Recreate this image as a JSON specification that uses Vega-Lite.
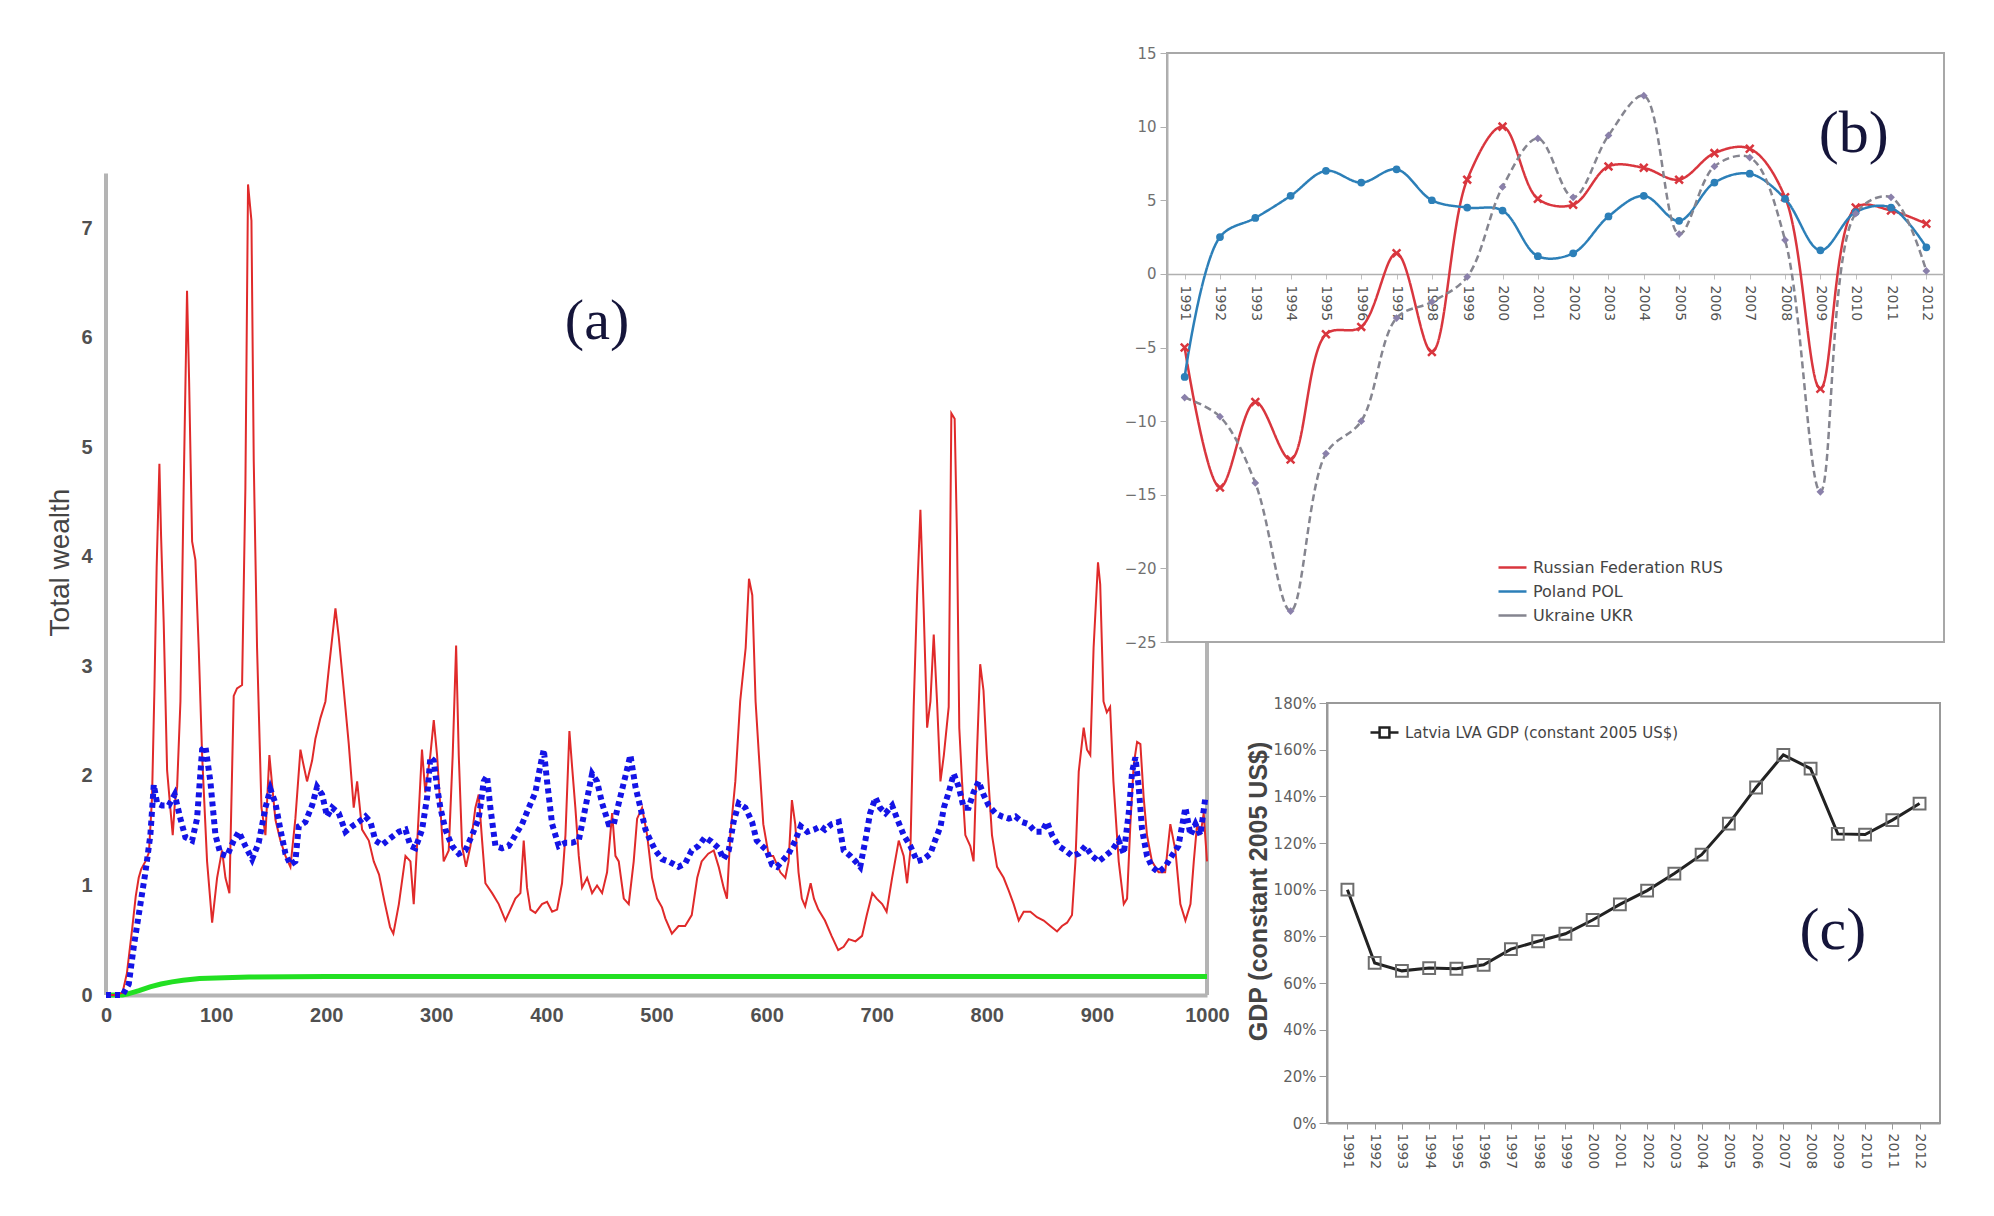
{
  "$schema": "https://vega.github.io/schema/vega-lite/v6.json",
  "background": "white",
  "padding": {"left": 46, "top": 45, "right": 5, "bottom": 5},
  "autosize": {"type": "pad"},
  "config": {
    "view": {"stroke": null},
    "axis": {"grid": false, "labelOverlap": false, "labelFlush": false},
    "font": "Liberation Sans"
  },
  "datasets": {
    "frameA": [
      {"x": 0, "x2": 0, "y": 0, "y2": 7.5},
      {"x": 1000, "x2": 1000, "y": 0, "y2": 7.5}
    ],
    "green": [
      {"t": 0, "w": 0}, {"t": 15, "w": 0}, {"t": 20, "w": 0.01}, {"t": 30, "w": 0.04},
      {"t": 40, "w": 0.075}, {"t": 50, "w": 0.1}, {"t": 60, "w": 0.12}, {"t": 70, "w": 0.135},
      {"t": 85, "w": 0.15}, {"t": 100, "w": 0.155}, {"t": 130, "w": 0.165}, {"t": 200, "w": 0.17},
      {"t": 1000, "w": 0.17}
    ],
    "red": [
      {"t": 0, "w": 0}, {"t": 8, "w": 0}, {"t": 15, "w": 0.02}, {"t": 19, "w": 0.2}, {"t": 23.7, "w": 0.6},
      {"t": 27, "w": 0.9}, {"t": 29.7, "w": 1.07}, {"t": 32, "w": 1.15}, {"t": 35.8, "w": 1.22}, {"t": 39, "w": 1.3},
      {"t": 41.8, "w": 1.8}, {"t": 44, "w": 2.8}, {"t": 46, "w": 3.9}, {"t": 48.5, "w": 4.85}, {"t": 50, "w": 4.2},
      {"t": 52.4, "w": 3.4}, {"t": 55.5, "w": 2.05}, {"t": 58.5, "w": 1.7}, {"t": 60.6, "w": 1.46}, {"t": 62.5, "w": 1.75},
      {"t": 64.6, "w": 1.9}, {"t": 67.6, "w": 2.68}, {"t": 70.5, "w": 4.6}, {"t": 73.6, "w": 6.43}, {"t": 75.5, "w": 5.6},
      {"t": 78.2, "w": 4.14}, {"t": 81.2, "w": 3.97}, {"t": 84.2, "w": 3.17}, {"t": 87.3, "w": 2.19}, {"t": 91.8, "w": 1.22},
      {"t": 96.4, "w": 0.66}, {"t": 100.9, "w": 1.07}, {"t": 105.4, "w": 1.32}, {"t": 108.5, "w": 1.07}, {"t": 112.1, "w": 0.93},
      {"t": 116, "w": 2.73}, {"t": 119, "w": 2.8}, {"t": 123.6, "w": 2.83}, {"t": 126.6, "w": 4.63}, {"t": 129, "w": 7.4},
      {"t": 132.1, "w": 7.07}, {"t": 134.2, "w": 4.87}, {"t": 137.2, "w": 3.17}, {"t": 141.2, "w": 1.71}, {"t": 144.8, "w": 1.46},
      {"t": 148.4, "w": 2.19}, {"t": 151.5, "w": 1.85}, {"t": 153.9, "w": 1.6}, {"t": 158.4, "w": 1.41}, {"t": 163, "w": 1.27},
      {"t": 167.5, "w": 1.17}, {"t": 172, "w": 1.61}, {"t": 176.6, "w": 2.24}, {"t": 179.6, "w": 2.09}, {"t": 182.6, "w": 1.95},
      {"t": 187.2, "w": 2.14}, {"t": 190.2, "w": 2.34}, {"t": 194.8, "w": 2.53}, {"t": 199.3, "w": 2.68}, {"t": 202.3, "w": 2.97},
      {"t": 208.4, "w": 3.53}, {"t": 211.4, "w": 3.27}, {"t": 216, "w": 2.78}, {"t": 220.5, "w": 2.29}, {"t": 225, "w": 1.71},
      {"t": 228.1, "w": 1.95}, {"t": 232.6, "w": 1.51}, {"t": 238.7, "w": 1.41}, {"t": 243.2, "w": 1.22}, {"t": 248, "w": 1.1},
      {"t": 253, "w": 0.85}, {"t": 258, "w": 0.62}, {"t": 261, "w": 0.56}, {"t": 266, "w": 0.83}, {"t": 272, "w": 1.27},
      {"t": 276.5, "w": 1.22}, {"t": 279.5, "w": 0.83}, {"t": 282.5, "w": 1.36}, {"t": 287, "w": 2.24}, {"t": 290, "w": 1.85},
      {"t": 294.6, "w": 2.19}, {"t": 297.7, "w": 2.51}, {"t": 300.7, "w": 2.19}, {"t": 303.7, "w": 1.71}, {"t": 306.7, "w": 1.22},
      {"t": 311.3, "w": 1.32}, {"t": 314.9, "w": 2.19}, {"t": 318, "w": 3.19}, {"t": 320.4, "w": 2.19}, {"t": 323.4, "w": 1.36},
      {"t": 327, "w": 1.17}, {"t": 331, "w": 1.36}, {"t": 335.5, "w": 1.71}, {"t": 338.5, "w": 1.83}, {"t": 341.6, "w": 1.41},
      {"t": 344.6, "w": 1.02}, {"t": 350.7, "w": 0.93}, {"t": 356.7, "w": 0.83}, {"t": 362.8, "w": 0.68}, {"t": 367.3, "w": 0.78},
      {"t": 371.8, "w": 0.88}, {"t": 376.4, "w": 0.93}, {"t": 379.4, "w": 1.41}, {"t": 382.4, "w": 0.98}, {"t": 385.5, "w": 0.78},
      {"t": 390, "w": 0.75}, {"t": 396, "w": 0.83}, {"t": 400.6, "w": 0.85}, {"t": 405.2, "w": 0.76}, {"t": 409.7, "w": 0.78},
      {"t": 414.2, "w": 1.02}, {"t": 417.3, "w": 1.46}, {"t": 420.9, "w": 2.41}, {"t": 423.3, "w": 2.09}, {"t": 426.3, "w": 1.71},
      {"t": 429.4, "w": 1.27}, {"t": 432.4, "w": 0.98}, {"t": 437, "w": 1.07}, {"t": 441.5, "w": 0.93}, {"t": 446, "w": 1.0},
      {"t": 450.6, "w": 0.93}, {"t": 455.1, "w": 1.12}, {"t": 459.7, "w": 1.66}, {"t": 462.7, "w": 1.27}, {"t": 465.7, "w": 1.22},
      {"t": 470.3, "w": 0.88}, {"t": 474.8, "w": 0.83}, {"t": 479.3, "w": 1.22}, {"t": 482.4, "w": 1.61}, {"t": 486.9, "w": 1.71},
      {"t": 491.5, "w": 1.46}, {"t": 496, "w": 1.07}, {"t": 500.5, "w": 0.88}, {"t": 505, "w": 0.8}, {"t": 508, "w": 0.7},
      {"t": 514, "w": 0.56}, {"t": 520, "w": 0.63}, {"t": 526, "w": 0.63}, {"t": 532, "w": 0.73}, {"t": 537, "w": 1.07},
      {"t": 541, "w": 1.22}, {"t": 547, "w": 1.29}, {"t": 552, "w": 1.32}, {"t": 556.5, "w": 1.17}, {"t": 561, "w": 0.98},
      {"t": 564, "w": 0.88}, {"t": 567, "w": 1.46}, {"t": 571.6, "w": 1.95}, {"t": 576, "w": 2.68}, {"t": 581, "w": 3.17},
      {"t": 584, "w": 3.8}, {"t": 587, "w": 3.65}, {"t": 590, "w": 2.68}, {"t": 593, "w": 2.19}, {"t": 597, "w": 1.56},
      {"t": 602, "w": 1.27}, {"t": 606, "w": 1.27}, {"t": 612.5, "w": 1.12}, {"t": 617, "w": 1.07}, {"t": 620, "w": 1.22},
      {"t": 623, "w": 1.78}, {"t": 626, "w": 1.56}, {"t": 629, "w": 1.12}, {"t": 632, "w": 0.88}, {"t": 635, "w": 0.81},
      {"t": 640, "w": 1.02}, {"t": 643, "w": 0.88}, {"t": 647, "w": 0.78}, {"t": 653, "w": 0.68}, {"t": 659, "w": 0.54},
      {"t": 665, "w": 0.41}, {"t": 670, "w": 0.44}, {"t": 674.6, "w": 0.51}, {"t": 680.7, "w": 0.49}, {"t": 686.7, "w": 0.54},
      {"t": 691, "w": 0.73}, {"t": 696, "w": 0.93}, {"t": 700, "w": 0.88}, {"t": 705, "w": 0.83}, {"t": 709, "w": 0.76},
      {"t": 714, "w": 1.07}, {"t": 720, "w": 1.41}, {"t": 724.5, "w": 1.27}, {"t": 727.6, "w": 1.02}, {"t": 730.6, "w": 1.32},
      {"t": 733.6, "w": 2.63}, {"t": 736.7, "w": 3.65}, {"t": 739.7, "w": 4.43}, {"t": 742.7, "w": 3.51}, {"t": 745.8, "w": 2.44},
      {"t": 748.8, "w": 2.68}, {"t": 751.8, "w": 3.29}, {"t": 754.8, "w": 2.68}, {"t": 757.9, "w": 1.95}, {"t": 761, "w": 2.19},
      {"t": 765.4, "w": 2.63}, {"t": 767.8, "w": 5.31}, {"t": 770.8, "w": 5.26}, {"t": 773, "w": 4.14}, {"t": 775, "w": 2.44},
      {"t": 777.5, "w": 1.95}, {"t": 780.5, "w": 1.46}, {"t": 785, "w": 1.36}, {"t": 788, "w": 1.22}, {"t": 791, "w": 2.19},
      {"t": 794, "w": 3.02}, {"t": 797, "w": 2.78}, {"t": 800, "w": 2.19}, {"t": 804.7, "w": 1.46}, {"t": 809.3, "w": 1.17},
      {"t": 815.3, "w": 1.07}, {"t": 820, "w": 0.95}, {"t": 824.4, "w": 0.83}, {"t": 829, "w": 0.68}, {"t": 833.5, "w": 0.76},
      {"t": 839.6, "w": 0.76}, {"t": 845.6, "w": 0.71}, {"t": 851.7, "w": 0.68}, {"t": 857.7, "w": 0.63}, {"t": 863.8, "w": 0.58},
      {"t": 868.3, "w": 0.63}, {"t": 872.9, "w": 0.66}, {"t": 877.4, "w": 0.73}, {"t": 880.5, "w": 1.22}, {"t": 883.5, "w": 2.04},
      {"t": 888, "w": 2.44}, {"t": 891, "w": 2.24}, {"t": 894, "w": 2.19}, {"t": 897, "w": 3.17}, {"t": 901, "w": 3.95},
      {"t": 903, "w": 3.75}, {"t": 906, "w": 2.68}, {"t": 909, "w": 2.58}, {"t": 912, "w": 2.63}, {"t": 915, "w": 1.95},
      {"t": 919.8, "w": 1.22}, {"t": 924.4, "w": 0.83}, {"t": 927.4, "w": 0.88}, {"t": 930.4, "w": 1.56}, {"t": 933.4, "w": 2.1},
      {"t": 936.5, "w": 2.31}, {"t": 939.5, "w": 2.29}, {"t": 942.5, "w": 1.8}, {"t": 945.5, "w": 1.46}, {"t": 950, "w": 1.22},
      {"t": 956, "w": 1.12}, {"t": 962, "w": 1.12}, {"t": 966.7, "w": 1.56}, {"t": 971.3, "w": 1.32}, {"t": 975.8, "w": 0.83},
      {"t": 980.4, "w": 0.68}, {"t": 985, "w": 0.83}, {"t": 988, "w": 1.22}, {"t": 991, "w": 1.56}, {"t": 994, "w": 1.46},
      {"t": 997, "w": 1.66}, {"t": 1000, "w": 1.22}
    ],
    "blue": [
      {"t": 0, "w": 0}, {"t": 15, "w": 0}, {"t": 20.7, "w": 0.1}, {"t": 25.2, "w": 0.44}, {"t": 29.7, "w": 0.73},
      {"t": 35.8, "w": 1.12}, {"t": 40.3, "w": 1.46}, {"t": 43.4, "w": 1.92}, {"t": 46.4, "w": 1.75}, {"t": 50.9, "w": 1.73},
      {"t": 57, "w": 1.73}, {"t": 62.4, "w": 1.83}, {"t": 67.6, "w": 1.61}, {"t": 72.1, "w": 1.44}, {"t": 78.2, "w": 1.41},
      {"t": 82.7, "w": 1.61}, {"t": 87.3, "w": 2.24}, {"t": 90.3, "w": 2.27}, {"t": 94.8, "w": 1.95}, {"t": 99.4, "w": 1.46},
      {"t": 103.9, "w": 1.29}, {"t": 110, "w": 1.27}, {"t": 116, "w": 1.41}, {"t": 120.6, "w": 1.49}, {"t": 126.6, "w": 1.36},
      {"t": 132.7, "w": 1.24}, {"t": 138.7, "w": 1.39}, {"t": 144.8, "w": 1.71}, {"t": 149.3, "w": 1.88}, {"t": 153.9, "w": 1.75},
      {"t": 158.4, "w": 1.51}, {"t": 163, "w": 1.29}, {"t": 167.5, "w": 1.19}, {"t": 172, "w": 1.22}, {"t": 175.1, "w": 1.54},
      {"t": 181.1, "w": 1.58}, {"t": 187.2, "w": 1.73}, {"t": 191.7, "w": 1.9}, {"t": 196.3, "w": 1.83}, {"t": 200.8, "w": 1.63},
      {"t": 205.4, "w": 1.71}, {"t": 211.4, "w": 1.66}, {"t": 217.5, "w": 1.49}, {"t": 223.5, "w": 1.54}, {"t": 229.6, "w": 1.58},
      {"t": 235.6, "w": 1.63}, {"t": 240.2, "w": 1.58}, {"t": 244.7, "w": 1.41}, {"t": 250.8, "w": 1.37}, {"t": 256.8, "w": 1.42},
      {"t": 262, "w": 1.46}, {"t": 266, "w": 1.49}, {"t": 272, "w": 1.51}, {"t": 276.5, "w": 1.36}, {"t": 281, "w": 1.34},
      {"t": 287.1, "w": 1.51}, {"t": 291.6, "w": 1.8}, {"t": 294.6, "w": 2.17}, {"t": 297.7, "w": 2.14}, {"t": 300.7, "w": 1.9},
      {"t": 303.7, "w": 1.71}, {"t": 308.3, "w": 1.51}, {"t": 314.3, "w": 1.36}, {"t": 320.4, "w": 1.29}, {"t": 326.4, "w": 1.32},
      {"t": 332.5, "w": 1.46}, {"t": 338.5, "w": 1.61}, {"t": 343.1, "w": 1.95}, {"t": 346.1, "w": 2.0}, {"t": 349.1, "w": 1.71},
      {"t": 353.7, "w": 1.36}, {"t": 359.7, "w": 1.34}, {"t": 365.8, "w": 1.36}, {"t": 371.8, "w": 1.46}, {"t": 377.9, "w": 1.56},
      {"t": 384, "w": 1.71}, {"t": 390, "w": 1.85}, {"t": 394.6, "w": 2.1}, {"t": 397.6, "w": 2.24}, {"t": 400.6, "w": 1.95},
      {"t": 405.2, "w": 1.56}, {"t": 411.2, "w": 1.36}, {"t": 417.3, "w": 1.39}, {"t": 423.3, "w": 1.39}, {"t": 429.4, "w": 1.41},
      {"t": 435.4, "w": 1.71}, {"t": 441.5, "w": 2.02}, {"t": 446, "w": 1.95}, {"t": 450.6, "w": 1.75}, {"t": 456.6, "w": 1.56},
      {"t": 461.2, "w": 1.56}, {"t": 465.7, "w": 1.75}, {"t": 471.8, "w": 2.0}, {"t": 476.3, "w": 2.19}, {"t": 480.9, "w": 1.9},
      {"t": 485.4, "w": 1.71}, {"t": 490, "w": 1.51}, {"t": 494.5, "w": 1.41}, {"t": 499, "w": 1.32}, {"t": 505.1, "w": 1.24},
      {"t": 511, "w": 1.22}, {"t": 520, "w": 1.17}, {"t": 526, "w": 1.2}, {"t": 532, "w": 1.32}, {"t": 538, "w": 1.36},
      {"t": 544, "w": 1.44}, {"t": 550, "w": 1.4}, {"t": 556.5, "w": 1.34}, {"t": 561, "w": 1.24}, {"t": 565.6, "w": 1.32},
      {"t": 570, "w": 1.58}, {"t": 574.7, "w": 1.75}, {"t": 580.7, "w": 1.71}, {"t": 586.8, "w": 1.58}, {"t": 591, "w": 1.41},
      {"t": 596, "w": 1.36}, {"t": 600, "w": 1.32}, {"t": 605, "w": 1.19}, {"t": 609.5, "w": 1.17}, {"t": 614, "w": 1.22},
      {"t": 620, "w": 1.29}, {"t": 626, "w": 1.41}, {"t": 631, "w": 1.54}, {"t": 637, "w": 1.49}, {"t": 643, "w": 1.51},
      {"t": 649, "w": 1.54}, {"t": 653, "w": 1.51}, {"t": 659, "w": 1.56}, {"t": 665.5, "w": 1.58}, {"t": 670, "w": 1.32},
      {"t": 676, "w": 1.27}, {"t": 680.7, "w": 1.22}, {"t": 685, "w": 1.17}, {"t": 689.7, "w": 1.41}, {"t": 694, "w": 1.66},
      {"t": 699, "w": 1.8}, {"t": 703, "w": 1.71}, {"t": 708, "w": 1.66}, {"t": 714, "w": 1.73}, {"t": 718.5, "w": 1.61},
      {"t": 724.5, "w": 1.46}, {"t": 730.6, "w": 1.36}, {"t": 736.7, "w": 1.22}, {"t": 742.7, "w": 1.24}, {"t": 748.8, "w": 1.29},
      {"t": 753, "w": 1.41}, {"t": 758, "w": 1.54}, {"t": 761, "w": 1.71}, {"t": 765.4, "w": 1.85}, {"t": 770, "w": 2.02},
      {"t": 774.5, "w": 1.9}, {"t": 779, "w": 1.71}, {"t": 783.5, "w": 1.71}, {"t": 788, "w": 1.85}, {"t": 792.6, "w": 1.95},
      {"t": 797, "w": 1.83}, {"t": 801.7, "w": 1.73}, {"t": 807.8, "w": 1.66}, {"t": 813.8, "w": 1.63}, {"t": 820, "w": 1.61},
      {"t": 826, "w": 1.63}, {"t": 832, "w": 1.58}, {"t": 838, "w": 1.56}, {"t": 844, "w": 1.49}, {"t": 850, "w": 1.49},
      {"t": 854.7, "w": 1.58}, {"t": 859.3, "w": 1.46}, {"t": 865.3, "w": 1.36}, {"t": 871.4, "w": 1.32}, {"t": 877.4, "w": 1.27},
      {"t": 883.5, "w": 1.29}, {"t": 889.5, "w": 1.36}, {"t": 895.6, "w": 1.27}, {"t": 901.6, "w": 1.22}, {"t": 907.7, "w": 1.27},
      {"t": 913.7, "w": 1.32}, {"t": 919.8, "w": 1.41}, {"t": 924.4, "w": 1.29}, {"t": 928.9, "w": 1.66}, {"t": 932, "w": 2.04},
      {"t": 935, "w": 2.17}, {"t": 938, "w": 1.9}, {"t": 941, "w": 1.51}, {"t": 945.5, "w": 1.27}, {"t": 950, "w": 1.17},
      {"t": 956, "w": 1.12}, {"t": 962, "w": 1.17}, {"t": 968, "w": 1.27}, {"t": 974, "w": 1.36}, {"t": 980.4, "w": 1.71},
      {"t": 985, "w": 1.46}, {"t": 989.5, "w": 1.56}, {"t": 994, "w": 1.46}, {"t": 998.5, "w": 1.8}
    ],
    "growth": [
      {"year": 1991, "country": "Russian Federation RUS", "g": -5.0},
      {"year": 1992, "country": "Russian Federation RUS", "g": -14.5},
      {"year": 1993, "country": "Russian Federation RUS", "g": -8.7},
      {"year": 1994, "country": "Russian Federation RUS", "g": -12.6},
      {"year": 1995, "country": "Russian Federation RUS", "g": -4.1},
      {"year": 1996, "country": "Russian Federation RUS", "g": -3.6},
      {"year": 1997, "country": "Russian Federation RUS", "g": 1.4},
      {"year": 1998, "country": "Russian Federation RUS", "g": -5.3},
      {"year": 1999, "country": "Russian Federation RUS", "g": 6.4},
      {"year": 2000, "country": "Russian Federation RUS", "g": 10.0},
      {"year": 2001, "country": "Russian Federation RUS", "g": 5.1},
      {"year": 2002, "country": "Russian Federation RUS", "g": 4.7},
      {"year": 2003, "country": "Russian Federation RUS", "g": 7.3},
      {"year": 2004, "country": "Russian Federation RUS", "g": 7.2},
      {"year": 2005, "country": "Russian Federation RUS", "g": 6.4},
      {"year": 2006, "country": "Russian Federation RUS", "g": 8.2},
      {"year": 2007, "country": "Russian Federation RUS", "g": 8.5},
      {"year": 2008, "country": "Russian Federation RUS", "g": 5.2},
      {"year": 2009, "country": "Russian Federation RUS", "g": -7.8},
      {"year": 2010, "country": "Russian Federation RUS", "g": 4.5},
      {"year": 2011, "country": "Russian Federation RUS", "g": 4.3},
      {"year": 2012, "country": "Russian Federation RUS", "g": 3.4},
      {"year": 1991, "country": "Poland POL", "g": -7.0},
      {"year": 1992, "country": "Poland POL", "g": 2.5},
      {"year": 1993, "country": "Poland POL", "g": 3.8},
      {"year": 1994, "country": "Poland POL", "g": 5.3},
      {"year": 1995, "country": "Poland POL", "g": 7.0},
      {"year": 1996, "country": "Poland POL", "g": 6.2},
      {"year": 1997, "country": "Poland POL", "g": 7.1},
      {"year": 1998, "country": "Poland POL", "g": 5.0},
      {"year": 1999, "country": "Poland POL", "g": 4.5},
      {"year": 2000, "country": "Poland POL", "g": 4.3},
      {"year": 2001, "country": "Poland POL", "g": 1.2},
      {"year": 2002, "country": "Poland POL", "g": 1.4},
      {"year": 2003, "country": "Poland POL", "g": 3.9},
      {"year": 2004, "country": "Poland POL", "g": 5.3},
      {"year": 2005, "country": "Poland POL", "g": 3.6},
      {"year": 2006, "country": "Poland POL", "g": 6.2},
      {"year": 2007, "country": "Poland POL", "g": 6.8},
      {"year": 2008, "country": "Poland POL", "g": 5.1},
      {"year": 2009, "country": "Poland POL", "g": 1.6},
      {"year": 2010, "country": "Poland POL", "g": 4.2},
      {"year": 2011, "country": "Poland POL", "g": 4.5},
      {"year": 2012, "country": "Poland POL", "g": 1.8},
      {"year": 1991, "country": "Ukraine UKR", "g": -8.4},
      {"year": 1992, "country": "Ukraine UKR", "g": -9.7},
      {"year": 1993, "country": "Ukraine UKR", "g": -14.2},
      {"year": 1994, "country": "Ukraine UKR", "g": -22.9},
      {"year": 1995, "country": "Ukraine UKR", "g": -12.2},
      {"year": 1996, "country": "Ukraine UKR", "g": -10.0},
      {"year": 1997, "country": "Ukraine UKR", "g": -3.0},
      {"year": 1998, "country": "Ukraine UKR", "g": -1.9},
      {"year": 1999, "country": "Ukraine UKR", "g": -0.2},
      {"year": 2000, "country": "Ukraine UKR", "g": 5.9},
      {"year": 2001, "country": "Ukraine UKR", "g": 9.2},
      {"year": 2002, "country": "Ukraine UKR", "g": 5.2},
      {"year": 2003, "country": "Ukraine UKR", "g": 9.4},
      {"year": 2004, "country": "Ukraine UKR", "g": 12.1},
      {"year": 2005, "country": "Ukraine UKR", "g": 2.7},
      {"year": 2006, "country": "Ukraine UKR", "g": 7.3},
      {"year": 2007, "country": "Ukraine UKR", "g": 7.9},
      {"year": 2008, "country": "Ukraine UKR", "g": 2.3},
      {"year": 2009, "country": "Ukraine UKR", "g": -14.8},
      {"year": 2010, "country": "Ukraine UKR", "g": 4.1},
      {"year": 2011, "country": "Ukraine UKR", "g": 5.2},
      {"year": 2012, "country": "Ukraine UKR", "g": 0.2}
    ],
    "latvia": [
      {"year": 1991, "gdp": 1.0, "series": "Latvia LVA GDP (constant 2005 US$)"},
      {"year": 1992, "gdp": 0.686, "series": "Latvia LVA GDP (constant 2005 US$)"},
      {"year": 1993, "gdp": 0.652, "series": "Latvia LVA GDP (constant 2005 US$)"},
      {"year": 1994, "gdp": 0.664, "series": "Latvia LVA GDP (constant 2005 US$)"},
      {"year": 1995, "gdp": 0.661, "series": "Latvia LVA GDP (constant 2005 US$)"},
      {"year": 1996, "gdp": 0.678, "series": "Latvia LVA GDP (constant 2005 US$)"},
      {"year": 1997, "gdp": 0.745, "series": "Latvia LVA GDP (constant 2005 US$)"},
      {"year": 1998, "gdp": 0.779, "series": "Latvia LVA GDP (constant 2005 US$)"},
      {"year": 1999, "gdp": 0.811, "series": "Latvia LVA GDP (constant 2005 US$)"},
      {"year": 2000, "gdp": 0.87, "series": "Latvia LVA GDP (constant 2005 US$)"},
      {"year": 2001, "gdp": 0.937, "series": "Latvia LVA GDP (constant 2005 US$)"},
      {"year": 2002, "gdp": 0.996, "series": "Latvia LVA GDP (constant 2005 US$)"},
      {"year": 2003, "gdp": 1.069, "series": "Latvia LVA GDP (constant 2005 US$)"},
      {"year": 2004, "gdp": 1.15, "series": "Latvia LVA GDP (constant 2005 US$)"},
      {"year": 2005, "gdp": 1.283, "series": "Latvia LVA GDP (constant 2005 US$)"},
      {"year": 2006, "gdp": 1.438, "series": "Latvia LVA GDP (constant 2005 US$)"},
      {"year": 2007, "gdp": 1.578, "series": "Latvia LVA GDP (constant 2005 US$)"},
      {"year": 2008, "gdp": 1.519, "series": "Latvia LVA GDP (constant 2005 US$)"},
      {"year": 2009, "gdp": 1.239, "series": "Latvia LVA GDP (constant 2005 US$)"},
      {"year": 2010, "gdp": 1.236, "series": "Latvia LVA GDP (constant 2005 US$)"},
      {"year": 2011, "gdp": 1.298, "series": "Latvia LVA GDP (constant 2005 US$)"},
      {"year": 2012, "gdp": 1.369, "series": "Latvia LVA GDP (constant 2005 US$)"}
    ]
  },
  "bounds": "flush",
  "spacing": 0,
  "resolve": {"scale": {"color": "independent"}, "legend": {"color": "independent"}},
  "hconcat": [
    {
      "width": 1061,
      "height": 942,
      "layer": [
        {
          "data": {"name": "frameA"},
          "mark": {"type": "rule", "color": "#b4b4b4", "strokeWidth": 4},
          "encoding": {
            "x": {
              "field": "x", "type": "quantitative",
              "scale": {"domain": [0, 1000], "nice": false, "range": [0, 1101]},
              "axis": {
                "title": null, "format": "d", "labelFlush": false,
                "values": [0, 100, 200, 300, 400, 500, 600, 700, 800, 900, 1000],
                "domainColor": "#b4b4b4", "domainWidth": 4, "ticks": false,
                "labelPadding": 10, "labelFontSize": 20, "labelFontWeight": "bold", "labelColor": "#505050"
              }
            },
            "x2": {"field": "x2"},
            "y": {
              "field": "y", "type": "quantitative",
              "scale": {"domain": [0, 8.6], "nice": false},
              "axis": {
                "title": "Total wealth", "format": "d",
                "values": [0, 1, 2, 3, 4, 5, 6, 7],
                "domain": false, "ticks": false,
                "labelPadding": 14, "labelFontSize": 20, "labelFontWeight": "bold", "labelColor": "#505050",
                "titleFontSize": 28, "titleFontWeight": "normal", "titleColor": "#444444",
                "titlePadding": 6, "titleY": 509
              }
            },
            "y2": {"field": "y2"}
          }
        },
        {
          "data": {"name": "green"},
          "mark": {"type": "line", "color": "#22e022", "strokeWidth": 5},
          "encoding": {
            "x": {"field": "t", "type": "quantitative"},
            "y": {"field": "w", "type": "quantitative"}
          }
        },
        {
          "data": {"name": "red"},
          "mark": {"type": "line", "color": "#e02a2a", "strokeWidth": 2},
          "encoding": {
            "x": {"field": "t", "type": "quantitative"},
            "y": {"field": "w", "type": "quantitative"}
          }
        },
        {
          "data": {"name": "blue"},
          "mark": {"type": "line", "color": "#1414e6", "strokeWidth": 6, "strokeDash": [5, 4]},
          "encoding": {
            "x": {"field": "t", "type": "quantitative"},
            "y": {"field": "w", "type": "quantitative"}
          }
        },
        {
          "data": {"values": [{"t": 446, "w": 6.14, "label": "(a)"}]},
          "mark": {"type": "text", "font": "Liberation Serif", "fontSize": 58, "color": "#15153a"},
          "encoding": {
            "x": {"field": "t", "type": "quantitative"},
            "y": {"field": "w", "type": "quantitative"},
            "text": {"field": "label"}
          }
        }
      ]
    },
    {
      "bounds": "flush",
      "spacing": 61,
      "resolve": {"scale": {"color": "independent"}, "legend": {"color": "independent"}},
      "vconcat": [
        {
          "width": 777,
          "height": 589,
          "view": {"stroke": "#a8a8a8", "strokeWidth": 2, "fill": "white"},
          "layer": [
            {
              "data": {"name": "growth"},
              "mark": {"type": "line", "interpolate": "catmull-rom", "strokeWidth": 2.5},
              "encoding": {
                "x": {
                  "field": "year", "type": "ordinal",
                  "scale": {"type": "point", "padding": 0.5},
                  "axis": {
                    "title": null, "labelExpr": "'' + datum.value", "labelOverlap": false,
                    "offset": -368,
                    "domainColor": "#b0b0b0", "domainWidth": 1.5, "tickColor": "#c0c0c0", "tickSize": 5,
                    "labelAngle": 90, "labelPadding": 6, "labelFont": "DejaVu Sans", "labelFontSize": 14, "labelColor": "#555555"
                  }
                },
                "y": {
                  "field": "g", "type": "quantitative",
                  "scale": {"domain": [-25, 15], "nice": false},
                  "axis": {
                    "title": null,
                    "values": [-25, -20, -15, -10, -5, 0, 5, 10, 15],
                    "domainColor": "#b0b0b0", "domainWidth": 2, "tickColor": "#b0b0b0", "tickSize": 7,
                    "labelPadding": 4, "labelFont": "DejaVu Sans", "labelFontSize": 15, "labelColor": "#707070"
                  }
                },
                "color": {
                  "field": "country", "type": "nominal",
                  "scale": {
                    "domain": ["Russian Federation RUS", "Poland POL", "Ukraine UKR"],
                    "range": ["#d9363e", "#2c7fb8", "#85858f"]
                  },
                  "legend": {
                    "orient": "none", "legendX": 330, "legendY": 499, "title": null, "padding": 0,
                    "symbolType": "stroke", "symbolSize": 784, "symbolStrokeWidth": 2.5,
                    "labelFont": "DejaVu Sans", "labelFontSize": 16, "labelColor": "#444444",
                    "labelOffset": 5, "rowPadding": 0, "labelLimit": 400
                  }
                },
                "strokeDash": {
                  "field": "country", "type": "nominal",
                  "scale": {
                    "domain": ["Russian Federation RUS", "Poland POL", "Ukraine UKR"],
                    "range": [[1, 0], [1, 0], [7, 4]]
                  },
                  "legend": null
                }
              }
            },
            {
              "data": {"name": "growth"},
              "transform": [{"filter": "datum.country === 'Russian Federation RUS'"}],
              "mark": {"type": "point", "shape": "M-1,-1L1,1M-1,1L1,-1", "filled": false, "color": "#d9363e", "strokeWidth": 2.5, "size": 60, "opacity": 1},
              "encoding": {
                "x": {"field": "year", "type": "ordinal"},
                "y": {"field": "g", "type": "quantitative"}
              }
            },
            {
              "data": {"name": "growth"},
              "transform": [{"filter": "datum.country === 'Poland POL'"}],
              "mark": {"type": "point", "shape": "circle", "filled": true, "color": "#2c7fb8", "size": 60, "opacity": 1},
              "encoding": {
                "x": {"field": "year", "type": "ordinal"},
                "y": {"field": "g", "type": "quantitative"}
              }
            },
            {
              "data": {"name": "growth"},
              "transform": [{"filter": "datum.country === 'Ukraine UKR'"}],
              "mark": {"type": "point", "shape": "diamond", "filled": true, "color": "#8a80aa", "size": 60, "opacity": 1},
              "encoding": {
                "x": {"field": "year", "type": "ordinal"},
                "y": {"field": "g", "type": "quantitative"}
              }
            },
            {
              "data": {"values": [{"year": 2010, "g": 9.52, "label": "(b)"}]},
              "mark": {"type": "text", "font": "Liberation Serif", "fontSize": 60, "color": "#15153a", "dx": -2},
              "encoding": {
                "x": {"field": "year", "type": "ordinal"},
                "y": {"field": "g", "type": "quantitative"},
                "text": {"field": "label"}
              }
            }
          ]
        },
        {
          "bounds": "flush",
          "spacing": 20,
          "resolve": {"scale": {"color": "independent"}, "legend": {"color": "independent"}},
          "hconcat": [
            {
              "width": 140,
              "height": 20,
              "data": {"values": []},
              "mark": "point"
            },
            {
              "width": 613,
              "height": 420,
              "view": {"stroke": "#999999", "strokeWidth": 2, "fill": "white"},
              "layer": [
                {
                  "data": {"name": "latvia"},
                  "mark": {"type": "line", "strokeWidth": 3},
                  "encoding": {
                    "x": {
                      "field": "year", "type": "ordinal",
                      "scale": {"type": "point", "padding": 0.75},
                      "axis": {
                        "title": null, "labelExpr": "'' + datum.value", "labelOverlap": false,
                        "domainColor": "#999999", "domainWidth": 2, "tickColor": "#999999", "tickSize": 6,
                        "labelAngle": 90, "labelPadding": 4, "labelFont": "DejaVu Sans", "labelFontSize": 14, "labelColor": "#555555"
                      }
                    },
                    "y": {
                      "field": "gdp", "type": "quantitative",
                      "scale": {"domain": [0, 1.8], "nice": false},
                      "axis": {
                        "title": "GDP (constant 2005 US$)", "format": ".0%",
                        "values": [0, 0.2, 0.4, 0.6, 0.8, 1.0, 1.2, 1.4, 1.6, 1.8],
                        "domainColor": "#999999", "domainWidth": 2, "tickColor": "#999999", "tickSize": 8,
                        "labelPadding": 3, "labelFont": "DejaVu Sans", "labelFontSize": 15, "labelColor": "#606060",
                        "titleFontSize": 25, "titleFontWeight": "bold", "titleColor": "#444444",
                        "titlePadding": 2, "titleY": 188
                      }
                    },
                    "color": {
                      "field": "series", "type": "nominal",
                      "scale": {"range": ["#222222"]},
                      "legend": {
                        "orient": "none", "legendX": 42, "legendY": 14, "title": null, "padding": 0,
                        "symbolType": "M-1,0L-0.35,0M0.35,0L1,0M-0.35,-0.35L0.35,-0.35L0.35,0.35L-0.35,0.35Z",
                        "symbolSize": 784, "symbolStrokeWidth": 2.5, "labelLimit": 400,
                        "labelFont": "DejaVu Sans", "labelFontSize": 15, "labelColor": "#444444", "labelOffset": 5
                      }
                    }
                  }
                },
                {
                  "data": {"name": "latvia"},
                  "mark": {"type": "point", "shape": "square", "filled": false, "color": "#6e6e6e", "strokeWidth": 2, "size": 140, "opacity": 1},
                  "encoding": {
                    "x": {"field": "year", "type": "ordinal"},
                    "y": {"field": "gdp", "type": "quantitative"}
                  }
                },
                {
                  "data": {"values": [{"year": 2009, "gdp": 0.823, "label": "(c)"}]},
                  "mark": {"type": "text", "font": "Liberation Serif", "fontSize": 60, "color": "#15153a", "dx": -5},
                  "encoding": {
                    "x": {"field": "year", "type": "ordinal"},
                    "y": {"field": "gdp", "type": "quantitative"},
                    "text": {"field": "label"}
                  }
                }
              ]
            }
          ]
        }
      ]
    }
  ]
}
